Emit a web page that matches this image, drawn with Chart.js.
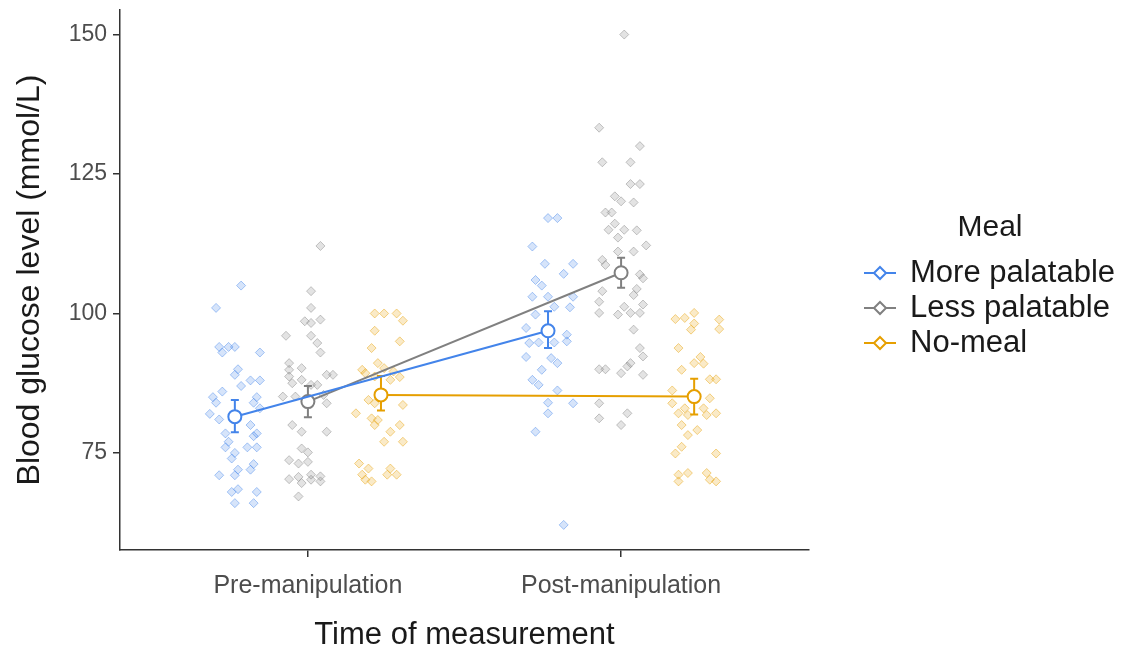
<!DOCTYPE html>
<html>
<head>
<meta charset="utf-8">
<script src="https://cdn.jsdelivr.net/npm/chart.js@4.4.0/dist/chart.umd.min.js"></script>
<style>
  body { margin: 0; background: #fff; }
  #contenedor { width: 1136px; height: 651px; position: relative; }
</style>
</head>
<body>
<div id="contenedor"><canvas id="grafico"></canvas></div>
<script>
const momentos = ["Pre-manipulation", "Post-manipulation"];
const comidas = ["More palatable", "Less palatable", "No-meal"];
const colores = ["#4384ea", "#808080", "#e69f00"];
const ticksY = [75, 100, 125, 150];

// medias y barras de error (pre, post)
const mediasMas = [81.5, 96.9];
const errMas = [[78.7, 84.5], [93.8, 100.4]];
const mediasMenos = [84.2, 107.3];
const errMenos = [[81.4, 87.0], [104.6, 110.0]];
const mediasNada = [85.4, 85.1];
const errNada = [[82.6, 88.8], [81.9, 88.3]];

// puntos individuales: [desplazamiento horizontal, valor]
const masPre = [[0.02,105],[-0.06,101],[-0.05,94],[-0.02,94],[0.00,94],[-0.04,93],[0.08,93],[0.01,90],[0.00,89],[0.05,88],
  [0.08,88],[0.02,87],[-0.04,86],[-0.07,85],[-0.06,84],[0.07,85],[0.06,84],[-0.08,82],[-0.05,81],[0.08,83],
  [0.05,80],[-0.03,78.5],[0.07,78.5],[0.06,78],[-0.02,77],[-0.03,76],[0.04,76],[0.07,76],[0.00,75],[-0.01,74],
  [0.06,73],[0.01,72],[0.00,71],[-0.05,71],[0.05,72],[-0.01,68],[0.01,68.5],[0.07,68],[0.00,66],[0.06,66]];
const menosPre = [[0.04,112.1],[0.01,104],[0.01,101],[-0.01,98.6],[0.01,98.3],[0.04,98.9],[-0.07,96],[0.01,96],[0.03,94.7],[0.04,93],
  [-0.06,91.1],[-0.06,89.9],[-0.06,88.7],[-0.02,90.2],[0.06,89],[0.08,89],[-0.05,87.5],[-0.02,88.1],[0.01,87.2],[0.03,87.2],
  [-0.08,85.1],[-0.04,85.1],[0.05,85.4],[0.06,83.9],[-0.05,80],[-0.02,78.8],[0.06,78.8],[-0.02,75.8],[0.00,75.1],[-0.06,73.7],
  [-0.03,73.1],[0.00,73.4],[-0.06,70.3],[-0.03,70.7],[0.01,71.1],[0.04,70.8],[0.04,69.9],[-0.02,69.6],[0.01,70.2],[-0.03,67.2]];
const nadaPre = [[-0.02,100],[0.01,100],[0.05,100],[0.07,98.7],[-0.02,96.9],[-0.03,93.8],[0.06,95],[-0.01,91.1],[-0.06,89.9],[-0.05,89.3],
  [0.01,90.2],[0.04,89.6],[0.06,88.6],[-0.02,88.7],[0.03,88.1],[-0.04,84.5],[-0.02,83.9],[0.07,83.6],[-0.08,82.1],[-0.03,81.2],
  [-0.02,80],[-0.01,80.9],[0.06,80],[0.03,78.8],[0.01,77],[0.07,77],[-0.07,73.1],[-0.04,72.2],[-0.06,71.1],[-0.03,69.9],
  [0.03,72.2],[0.02,71.1],[0.05,71.1],[-0.05,70.2]];
const masPost = [[0.00,117.1],[0.03,117.1],[-0.05,112],[-0.01,108.9],[0.08,108.9],[0.05,107.1],[-0.04,106],[-0.02,105],[-0.05,103],[0.00,103],
  [0.08,103],[0.02,101.2],[0.07,101.1],[-0.04,99.8],[-0.07,97.4],[-0.06,94.7],[-0.03,94.8],[0.02,94.8],[0.06,96.2],[0.06,95],
  [-0.07,92.2],[0.01,92],[0.03,91.1],[-0.02,89.9],[-0.05,88.1],[-0.03,87.2],[0.03,86.2],[0.00,84],[0.08,83.9],[0.00,82.1],
  [-0.04,78.8],[0.05,62.1]];
const menosPost = [[0.01,150],[-0.07,133.3],[0.06,130],[-0.06,127.1],[0.03,127.1],[0.03,123.2],[0.06,123.2],[-0.02,121],[0.00,120.1],[0.04,119.9],
  [-0.05,118.1],[-0.03,118.1],[-0.02,116.1],[-0.04,115],[0.01,115],[0.05,114.9],[-0.01,113.6],[0.08,112.2],[-0.01,111.1],[0.04,111.1],
  [-0.06,109.6],[-0.05,108.7],[0.06,107],[0.07,106.3],[0.05,104.4],[0.04,103.3],[-0.06,104],[-0.07,102.1],[-0.07,100.1],[0.01,101.2],
  [0.03,100.1],[0.06,100.1],[0.07,101.6],[-0.01,99.8],[0.04,97.1],[0.06,93.8],[0.07,92.3],[-0.07,90],[-0.05,90],[0.00,89.3],
  [0.02,90.5],[0.03,91.1],[0.07,89],[-0.07,83.9],[-0.07,81.2],[0.02,82.1],[0.00,80]];
const nadaPost = [[0.00,100.1],[-0.03,99.2],[-0.06,99],[0.00,98.2],[-0.01,97.1],[0.08,98.9],[0.08,97.2],[-0.05,93.8],[0.02,92.2],[0.00,91.1],
  [0.03,91],[-0.04,89.9],[0.05,88.2],[0.07,88.2],[-0.07,86.2],[0.05,84.8],[-0.07,83.9],[-0.03,83],[-0.02,81.8],[-0.05,82.1],
  [0.03,83],[0.07,82.1],[0.04,81.8],[-0.04,80],[0.01,79.1],[-0.02,78.2],[-0.04,76.1],[-0.06,74.9],[0.07,74.9],[-0.05,71.1],
  [-0.02,71.4],[-0.05,69.9],[0.04,71.4],[0.05,70.2],[0.07,69.9]];

const puntosPre = [masPre, menosPre, nadaPre];
const puntosPost = [masPost, menosPost, nadaPost];
const medias = [mediasMas, mediasMenos, mediasNada];
const errores = [errMas, errMenos, errNada];
const dodge = [-0.2333, 0, 0.2333];

const fuente = '"Liberation Sans", Arial, sans-serif';

function hexToRgba(hex, alpha) {
  const clean = hex.replace("#", "");
  const r = parseInt(clean.substring(0, 2), 16);
  const g = parseInt(clean.substring(2, 4), 16);
  const b = parseInt(clean.substring(4, 6), 16);
  return `rgba(${r}, ${g}, ${b}, ${alpha})`;
}

const datasets = [];
comidas.forEach((nombre, i) => {
  const color = colores[i];
  const puntos = [];
  [puntosPre[i], puntosPost[i]].forEach((grupo, t) => {
    grupo.forEach(([dx, y]) => puntos.push({ x: t + 1 + dodge[i] + dx, y }));
  });
  datasets.push({
    label: nombre + " (datos)",
    data: puntos,
    pointStyle: "rectRot",
    pointRadius: 4.5,
    backgroundColor: hexToRgba(color, 0.22),
    borderColor: hexToRgba(color, 0.45),
    borderWidth: 1,
    order: 2
  });
  datasets.push({
    label: nombre,
    data: medias[i].map((y, t) => ({ x: t + 1 + dodge[i], y })),
    showLine: true,
    borderColor: color,
    borderWidth: 2,
    pointStyle: "circle",
    pointRadius: 6.5,
    pointBackgroundColor: "#fff",
    pointBorderColor: color,
    pointBorderWidth: 2,
    errores: errores[i].map((e, t) => ({ x: t + 1 + dodge[i], lo: e[0], hi: e[1] })),
    order: 1
  });
});

// barras de error dibujadas antes de la línea de medias
const barrasError = {
  id: "barrasError",
  beforeDatasetDraw(chart, args) {
    const ds = chart.data.datasets[args.index];
    if (!ds.errores) return;
    const { ctx, scales: { x, y } } = chart;
    ctx.save();
    ctx.strokeStyle = ds.borderColor;
    ctx.lineWidth = 2;
    ds.errores.forEach(e => {
      const px = x.getPixelForValue(e.x);
      const y1 = y.getPixelForValue(e.lo);
      const y2 = y.getPixelForValue(e.hi);
      ctx.beginPath();
      ctx.moveTo(px, y1); ctx.lineTo(px, y2);
      ctx.moveTo(px - 4, y1); ctx.lineTo(px + 4, y1);
      ctx.moveTo(px - 4, y2); ctx.lineTo(px + 4, y2);
      ctx.stroke();
    });
    ctx.restore();
  }
};

const leyenda = {
  id: "leyenda",
  afterDraw(chart) {
    const ctx = chart.ctx;
    ctx.save();
    ctx.fillStyle = "#1a1a1a";
    ctx.font = `30px ${fuente}`;
    ctx.textAlign = "center";
    ctx.textBaseline = "middle";
    ctx.fillText("Meal", 990, 228);
    ctx.font = `31px ${fuente}`;
    ctx.textAlign = "left";
    comidas.forEach((nombre, i) => {
      const yy = 273 + i * 35;
      ctx.strokeStyle = colores[i];
      ctx.lineWidth = 2;
      ctx.beginPath();
      ctx.moveTo(864, yy); ctx.lineTo(896, yy);
      ctx.stroke();
      ctx.beginPath();
      ctx.moveTo(880, yy - 6); ctx.lineTo(886, yy); ctx.lineTo(880, yy + 6); ctx.lineTo(874, yy);
      ctx.closePath();
      ctx.fillStyle = "#fff";
      ctx.fill();
      ctx.stroke();
      ctx.fillStyle = "#1a1a1a";
      ctx.fillText(nombre, 910, yy);
    });
    ctx.restore();
  }
};

const ctx = document.getElementById("grafico").getContext("2d");
const chart = new Chart(ctx, {
  type: "scatter",
  data: { datasets },
  plugins: [barrasError, leyenda],
  options: {
    responsive: true,
    maintainAspectRatio: false,
    animation: false,
    layout: { padding: { top: 10, right: 327, left: 0, bottom: 0 } },
    plugins: {
      legend: { display: false },
      tooltip: { enabled: false }
    },
    scales: {
      x: {
        type: "linear",
        min: 0.4,
        max: 2.6,
        afterBuildTicks: s => { s.ticks = [1, 2].map(v => ({ value: v })); },
        afterFit: s => { s.height = 101; s.paddingLeft = 0; s.paddingRight = 0; },
        ticks: {
          callback: (v, i) => momentos[i],
          font: { family: fuente, size: 25 },
          color: "#4d4d4d",
          padding: 14,
          maxRotation: 0
        },
        grid: { drawOnChartArea: false, drawTicks: true, tickLength: 7, color: "#333", lineWidth: 1.5 },
        border: { display: true, color: "#333", width: 1.5 },
        title: {
          display: true,
          text: "Time of measurement",
          font: { family: fuente, size: 31, lineHeight: 1 },
          color: "#1a1a1a",
          padding: { top: 0, bottom: 0 }
        }
      },
      y: {
        min: 57.6,
        max: 154.4,
        afterBuildTicks: s => { s.ticks = ticksY.map(v => ({ value: v })); },
        afterFit: s => { s.width = 120; s.paddingTop = 0; s.paddingBottom = 0; },
        ticks: {
          font: { family: fuente, size: 23 },
          color: "#4d4d4d",
          padding: 6
        },
        grid: { drawOnChartArea: false, drawTicks: true, tickLength: 7, color: "#333", lineWidth: 1.5 },
        border: { display: true, color: "#333", width: 1.5 },
        title: {
          display: true,
          text: "Blood glucose level (mmol/L)",
          font: { family: fuente, size: 32, lineHeight: 1 },
          color: "#1a1a1a",
          padding: { top: 14, bottom: 0 }
        }
      }
    }
  }
});
</script>
</body>
</html>
